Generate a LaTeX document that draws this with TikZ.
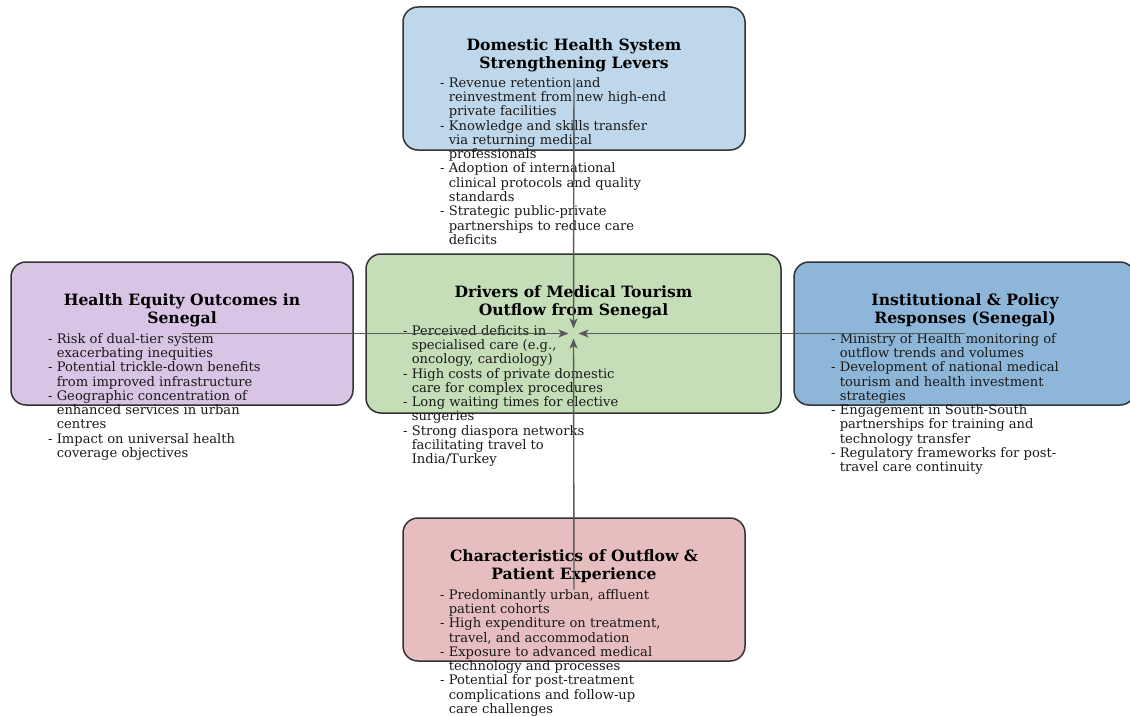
\documentclass[tikz,border=0pt]{standalone}
\usepackage{fontspec}
\setmainfont{DejaVu Serif}
\usetikzlibrary{arrows.meta,positioning}
\definecolor{topblue}{RGB}{190,215,234}
\definecolor{drivergreen}{RGB}{198,222,183}
\definecolor{equitypurple}{RGB}{216,196,228}
\definecolor{policyblue}{RGB}{142,182,217}
\definecolor{outflowpink}{RGB}{230,190,192}
\newcommand{\contline}{\hphantom{-~}}
\tikzset{box/.style={rectangle,rounded corners=15pt,draw=black!80,line width=1.5pt,minimum width=342pt,minimum height=143pt,inner sep=0pt},
         box title/.style={align=center,inner sep=0pt,font=\fontsize{15.6}{18}\selectfont\bfseries},
         box text/.style={align=left,anchor=north west,inner sep=0pt,text=black!90,font=\fontsize{13.1}{14.3}\selectfont},
         link/.style={draw=black!65,line width=1.4pt,-{Stealth[length=10pt,width=8pt,inset=2.5pt]},shorten >=5pt},
}
\begin{document}
\begin{tikzpicture}[x=1pt,y=-1pt]
\useasboundingbox (0,0) rectangle (1130,717);
% boxes
\node[box,fill=topblue] (levers) at (574,78.5) {};
\node[box,fill=drivergreen,minimum width=415pt,minimum height=159pt] (drivers) at (573.5,333.5) {};
\node[box,fill=equitypurple] (equity) at (182,333.5) {};
\node[box,fill=policyblue,minimum width=341pt] (policy) at (964.5,333.5) {};
\node[box,fill=outflowpink] (outflow) at (574,589.5) {};
% titles
\node[box title] (levers title) at (574,55) {Domestic Health System\\Strengthening Levers};
\node[box title] (drivers title) at (573.5,302) {Drivers of Medical Tourism\\Outflow from Senegal};
\node[box title] (equity title) at (182,310) {Health Equity Outcomes in\\Senegal};
\node[box title] (policy title) at (965,310) {Institutional \& Policy\\Responses (Senegal)};
\node[box title] (outflow title) at (574,566) {Characteristics of Outflow \&\\Patient Experience};
% bullet lists
\node[box text] (levers text) at (440,77) {- Revenue retention and\\
\contline reinvestment from new high-end\\
\contline private facilities\\
- Knowledge and skills transfer\\
\contline via returning medical\\
\contline professionals\\
- Adoption of international\\
\contline clinical protocols and quality\\
\contline standards\\
- Strategic public-private\\
\contline partnerships to reduce care\\
\contline deficits};
\node[box text] (drivers text) at (403,325) {- Perceived deficits in\\
\contline specialised care (e.g.,\\
\contline oncology, cardiology)\\
- High costs of private domestic\\
\contline care for complex procedures\\
- Long waiting times for elective\\
\contline surgeries\\
- Strong diaspora networks\\
\contline facilitating travel to\\
\contline India/Turkey};
\node[box text] (equity text) at (48,333) {- Risk of dual-tier system\\
\contline exacerbating inequities\\
- Potential trickle-down benefits\\
\contline from improved infrastructure\\
- Geographic concentration of\\
\contline enhanced services in urban\\
\contline centres\\
- Impact on universal health\\
\contline coverage objectives};
\node[box text] (policy text) at (831,333) {- Ministry of Health monitoring of\\
\contline outflow trends and volumes\\
- Development of national medical\\
\contline tourism and health investment\\
\contline strategies\\
- Engagement in South-South\\
\contline partnerships for training and\\
\contline technology transfer\\
- Regulatory frameworks for post-\\
\contline travel care continuity};
\node[box text] (outflow text) at (440,589) {- Predominantly urban, affluent\\
\contline patient cohorts\\
- High expenditure on treatment,\\
\contline travel, and accommodation\\
- Exposure to advanced medical\\
\contline technology and processes\\
- Potential for post-treatment\\
\contline complications and follow-up\\
\contline care challenges};
% links into the hub
\draw[link] (levers.center) -- (drivers.center);
\draw[link] (equity.center) -- (drivers.center);
\draw[link] (policy.center) -- (drivers.center);
\draw[link] (outflow.center) -- (drivers.center);
\end{tikzpicture}
\end{document}
